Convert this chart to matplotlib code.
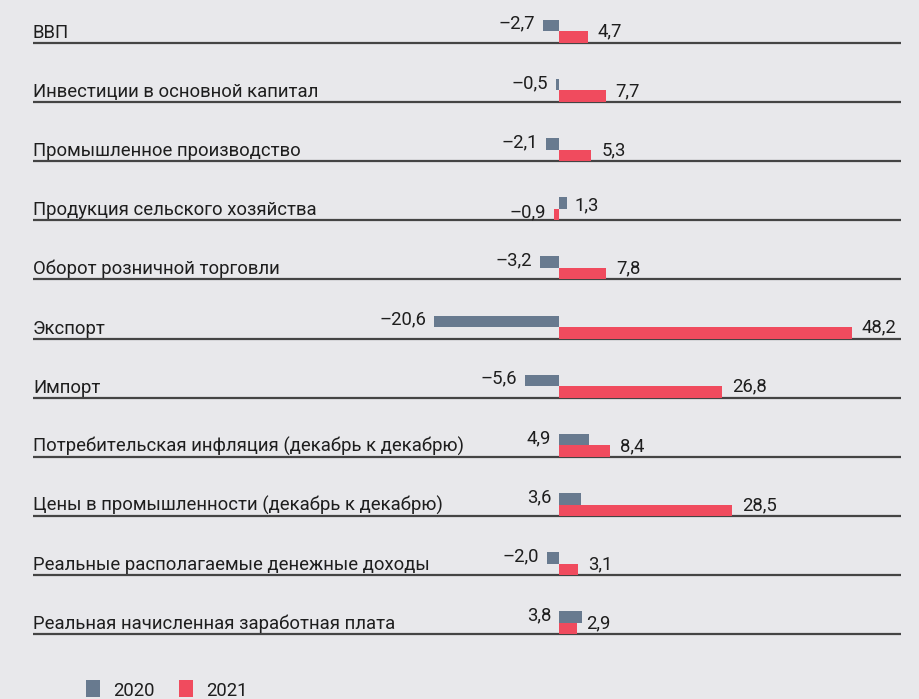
import matplotlib
import matplotlib.pyplot as plt
import numpy as np

matplotlib.use("Agg")

categories = [
    "ВВП",
    "Инвестиции в основной капитал",
    "Промышленное производство",
    "Продукция сельского хозяйства",
    "Оборот розничной торговли",
    "Экспорт",
    "Импорт",
    "Потребительская инфляция (декабрь к декабрю)",
    "Цены в промышленности (декабрь к декабрю)",
    "Реальные располагаемые денежные доходы",
    "Реальная начисленная заработная плата",
]
values_2020 = [-2.7, -0.5, -2.1, 1.3, -3.2, -20.6, -5.6, 4.9, 3.6, -2.0, 3.8]
values_2021 = [4.7, 7.7, 5.3, -0.9, 7.8, 48.2, 26.8, 8.4, 28.5, 3.1, 2.9]
series_names = ["2020", "2021"]

GRAY = "#687a8f"
RED = "#f04b5e"
BG = "#e8e8eb"
LINE = "#444444"
TEXT = "#1e1e1e"

plt.rcParams["font.family"] = ["Roboto", "DejaVu Sans"]

W, H = 919, 699
fig = plt.figure(figsize=(W / 100, H / 100), dpi=100, facecolor=BG)
ax = fig.add_axes([0, 0, 1, 1])
ax.set_facecolor(BG)

# px per unit and zero position
scale = 6.07
zero_px = 559
ax.set_xlim(-zero_px / scale, (W - zero_px) / scale)
ax.set_ylim(H, 0)
ax.axis("off")

first_line = 42.7
step = 59.17
bar_h = 11.5
pad = 8 / scale

fs = 13.3


def fmt(v):
    return f"{v:.1f}".replace(".", ",").replace("-", "\u2013")


for i, (cat, v0, v1) in enumerate(zip(categories, values_2020, values_2021)):
    y_line = first_line + i * step
    ax.plot([(33 - zero_px) / scale, (901 - zero_px) / scale], [y_line, y_line],
            color=LINE, lw=1.6, solid_capstyle="butt", zorder=1)
    ax.text((33 - zero_px) / scale, y_line - 5, cat, fontsize=fs, color=TEXT,
            ha="left", va="baseline")

    y_red = y_line - bar_h / 2
    y_gray = y_line - bar_h * 1.5
    ax.barh(y_gray, v0, height=bar_h, color=GRAY, zorder=2)
    ax.barh(y_red, v1, height=bar_h, color=RED, zorder=2)

    # 2020 labels sit to the left, except where the bar goes right and 2021 goes left
    if v0 > 0 and v1 < 0:
        ax.text(v0 + pad, y_line - 10, fmt(v0), fontsize=fs, color=TEXT, ha="left", va="baseline")
        ax.text(v1 - pad, y_line - 3, fmt(v1), fontsize=fs, color=TEXT, ha="right", va="baseline")
    else:
        ax.text(min(v0, 0) - pad, y_line - 14, fmt(v0), fontsize=fs, color=TEXT, ha="right", va="baseline")
        ax.text(max(v1, 0) + 10 / scale, y_line - 6, fmt(v1), fontsize=fs, color=TEXT, ha="left", va="baseline")

# legend
leg_y = 688.5
for name, color, x0 in zip(series_names, [GRAY, RED], [86, 179]):
    ax.barh(leg_y, 14 / scale, left=(x0 - zero_px) / scale, height=17, color=color)
    ax.text((x0 + 27 - zero_px) / scale, leg_y + 8, name, fontsize=fs, color=TEXT,
            ha="left", va="baseline")

fig.savefig("out.png", dpi=100, facecolor=BG)
